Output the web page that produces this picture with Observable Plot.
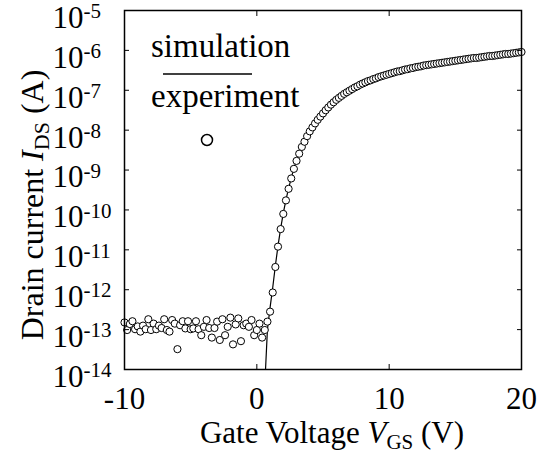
<!DOCTYPE html>
<html><head><meta charset="utf-8">
<script src="https://cdn.jsdelivr.net/npm/d3@7"></script>
<script src="https://cdn.jsdelivr.net/npm/@observablehq/plot@0.6"></script>
<style>body{margin:0;background:#fff}</style>
</head><body><div id="chart"></div>
<script>
// Experiment: gate voltage (V) and log10 of drain current (A)
const gateV = [
  -10,-9.8,-9.6,-9.4,-9.2,-9,-8.8,-8.6,-8.4,-8.2,
  -8,-7.8,-7.6,-7.4,-7.2,-7,-6.8,-6.6,-6.4,-6.2,
  -6,-5.8,-5.6,-5.4,-5.2,-5,-4.8,-4.6,-4.4,-4.2,
  -4,-3.8,-3.6,-3.4,-3.2,-3,-2.8,-2.6,-2.4,-2.2,
  -2,-1.8,-1.6,-1.4,-1.2,-1,-0.8,-0.6,-0.4,-0.2,
  0,0.2,0.4,0.6,0.8,1,1.2,1.4,1.6,1.8,
  2,2.2,2.4,2.6,2.8,3,3.2,3.4,3.6,3.8,
  4,4.2,4.4,4.6,4.8,5,5.2,5.4,5.6,5.8,
  6,6.2,6.4,6.6,6.8,7,7.2,7.4,7.6,7.8,
  8,8.2,8.4,8.6,8.8,9,9.2,9.4,9.6,9.8,
  10,10.2,10.4,10.6,10.8,11,11.2,11.4,11.6,11.8,
  12,12.2,12.4,12.6,12.8,13,13.2,13.4,13.6,13.8,
  14,14.2,14.4,14.6,14.8,15,15.2,15.4,15.6,15.8,
  16,16.2,16.4,16.6,16.8,17,17.2,17.4,17.6,17.8,
  18,18.2,18.4,18.6,18.8,19,19.2,19.4,19.6,19.8,
  20
];
const drainLog = [
  -12.82,-13.01,-12.86,-12.79,-12.99,-12.92,-13.05,-12.90,-12.99,-12.74,
  -13.01,-12.85,-12.99,-12.90,-12.96,-12.74,-13.01,-13.05,-12.76,-12.85,
  -13.49,-12.89,-12.79,-12.97,-12.79,-12.99,-12.97,-12.79,-12.99,-13.14,
  -12.93,-12.76,-12.96,-13.20,-12.96,-12.80,-13.26,-12.74,-13.14,-12.93,
  -12.70,-13.37,-12.87,-12.72,-13.29,-12.89,-12.85,-12.93,-12.76,-13.14,
  -13.01,-12.85,-13.20,-13.01,-12.80,-12.55,-12.07,-11.43,-10.92,-10.48,
  -10.10,-9.76,-9.47,-9.21,-8.97,-8.77,-8.59,-8.42,-8.29,-8.15,
  -8.03,-7.93,-7.83,-7.74,-7.66,-7.58,-7.50,-7.43,-7.36,-7.30,
  -7.24,-7.19,-7.14,-7.09,-7.05,-7.01,-6.97,-6.93,-6.90,-6.86,
  -6.83,-6.80,-6.77,-6.75,-6.72,-6.70,-6.67,-6.65,-6.63,-6.61,
  -6.59,-6.57,-6.55,-6.53,-6.52,-6.50,-6.48,-6.47,-6.45,-6.44,
  -6.42,-6.41,-6.40,-6.38,-6.37,-6.36,-6.35,-6.34,-6.33,-6.32,
  -6.31,-6.30,-6.29,-6.28,-6.27,-6.26,-6.25,-6.24,-6.23,-6.22,
  -6.21,-6.20,-6.19,-6.19,-6.18,-6.17,-6.16,-6.15,-6.14,-6.14,
  -6.13,-6.12,-6.11,-6.10,-6.09,-6.09,-6.08,-6.07,-6.06,-6.05,
  -6.04
];
// Simulation curve
const simV   = [0.6, 0.8, 1.0, 1.2, 1.4, 1.6, 1.8, 2.0, 2.2, 2.4, 2.6, 2.8, 3.0, 3.5, 4.0, 5.0, 6.0, 7.0, 8.0, 10, 12, 14, 16, 18, 20];
const simLog = [-14.4, -13.0, -12.45, -11.95, -11.40, -10.90, -10.46, -10.08, -9.75, -9.46, -9.20, -8.96, -8.76, -8.35, -8.03, -7.58, -7.24, -7.01, -6.83, -6.59, -6.42, -6.31, -6.21, -6.13, -6.04];

const xTicks = [-10, 0, 10, 20];
const xInnerTicks = [0, 10];
const yTicks = [1e-5, 1e-6, 1e-7, 1e-8, 1e-9, 1e-10, 1e-11, 1e-12, 1e-13, 1e-14];
const yInnerTicks = [1e-6, 1e-7, 1e-8, 1e-9, 1e-10, 1e-11, 1e-12, 1e-13];

const expData = gateV.map((v, i) => ({v, i: Math.pow(10, drainLog[i])}));
const simData = simV.map((v, i) => ({v, i: Math.pow(10, simLog[i])}));

const font = "'Liberation Serif', 'Times New Roman', serif";

const chart = Plot.plot({
  width: 540, height: 457,
  marginLeft: 124, marginRight: 19, marginTop: 10, marginBottom: 88,
  style: {fontFamily: font, background: "white", color: "black", overflow: "visible"},
  x: {domain: [-10, 20]},
  y: {type: "log", domain: [1e-14, 1e-5]},
  marks: [
    Plot.line(simData, {x: "v", y: "i", stroke: "black", strokeWidth: 1.2, clip: true}),
    Plot.dot(expData, {x: "v", y: "i", r: 3.6, fill: "white", stroke: "black", strokeWidth: 1}),
    Plot.frame({stroke: "black", strokeWidth: 1.5}),
    Plot.axisX(xInnerTicks, {anchor: "bottom", tickSize: 5, dy: -5, text: null, label: null}),
    Plot.axisX(xInnerTicks, {anchor: "top", tickSize: 5, dy: 5, text: null, label: null}),
    Plot.axisY(yInnerTicks, {anchor: "left", tickSize: 5, dx: 5, text: null, label: null}),
    Plot.axisY(yInnerTicks, {anchor: "right", tickSize: 5, dx: -5, text: null, label: null}),
    Plot.axisX(xTicks, {anchor: "bottom", tickSize: 0, tickPadding: 17, fontSize: 31, tickFormat: d => String(d), label: null}),
    Plot.text(yTicks, {y: d => d, text: () => "10", frameAnchor: "left", textAnchor: "start", dx: -72, dy: 7.5, fontSize: 31}),
    Plot.text(yTicks, {y: d => d, text: d => String(Math.round(Math.log10(d))), frameAnchor: "left", textAnchor: "start", dx: -41, dy: 1, fontSize: 21})
  ]
});

const svg = d3.select(chart);
// Axis titles
const xt = svg.append("text").attr("x", 332).attr("y", 443).attr("text-anchor", "middle")
  .attr("font-size", 31).attr("font-family", font).attr("fill", "black");
xt.append("tspan").text("Gate Voltage ");
xt.append("tspan").attr("font-style", "italic").text("V");
xt.append("tspan").attr("font-size", 21).attr("dy", 6).text("GS");
xt.append("tspan").attr("dy", -6).text(" (V)");

const yt = svg.append("text").attr("transform", "translate(43,205) rotate(-90)").attr("text-anchor", "middle")
  .attr("font-size", 32).attr("font-family", font).attr("fill", "black");
yt.append("tspan").text("Drain current ");
yt.append("tspan").attr("font-style", "italic").text("I");
yt.append("tspan").attr("font-size", 22).attr("dy", 6).text("DS");
yt.append("tspan").attr("dy", -6).text(" (A)");

// Legend
svg.append("text").attr("x", 151).attr("y", 57).attr("text-anchor", "start").attr("font-size", 33).attr("font-family", font).attr("fill", "black").text("simulation");
svg.append("line").attr("x1", 163).attr("x2", 252).attr("y1", 74).attr("y2", 74).attr("stroke", "black").attr("stroke-width", 1.5);
svg.append("text").attr("x", 151).attr("y", 107).attr("text-anchor", "start").attr("font-size", 33).attr("font-family", font).attr("fill", "black").text("experiment");
svg.append("circle").attr("cx", 207).attr("cy", 140).attr("r", 5.5).attr("fill", "white").attr("stroke", "black").attr("stroke-width", 1.5);

document.getElementById("chart").appendChild(chart);
</script>
</body></html>
